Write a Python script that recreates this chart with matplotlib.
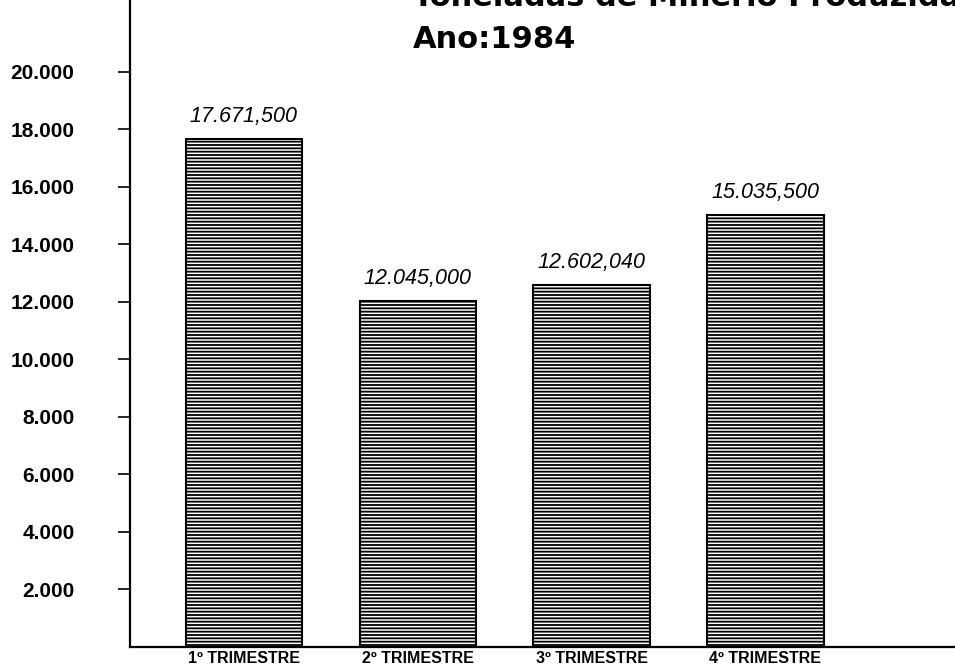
import numpy as np
import matplotlib as mpl
import matplotlib.pyplot as plt
from matplotlib.ticker import FuncFormatter

# producao trimestral (mil toneladas)
trimestres = ['1º TRIMESTRE', '2º TRIMESTRE', '3º TRIMESTRE', '4º TRIMESTRE']
producao = [17.6715, 12.045, 12.60204, 15.0355]
rotulos = ['17.671,500', '12.045,000', '12.602,040', '15.035,500']
yticks = [2, 4, 6, 8, 10, 12, 14, 16, 18, 20]

plt.rcParams['font.family'] = ['Liberation Sans', 'DejaVu Sans']
plt.rcParams['hatch.linewidth'] = 1.3
plt.rcParams['hatch.color'] = 'black'

fig = plt.figure(figsize=(9.55, 6.69), dpi=100)
ax = fig.add_axes([130 / 955, 22 / 669, 825 / 955, 647 / 669])

x = np.arange(len(producao))
ax.bar(x, producao, width=0.67, color='white', edgecolor='black',
       linewidth=1.5, hatch='-----')

for xi, v, txt in zip(x, producao, rotulos):
    ax.text(xi, v + 0.4, txt, ha='center', va='bottom', fontsize=15.5,
            style='italic')

ax.set_xlim(-0.655, 4.09)
ax.set_ylim(0, 22.5)
ax.set_yticks(yticks)
ax.yaxis.set_major_formatter(FuncFormatter(lambda v, p: f'{int(v)}.000'))
ax.tick_params(axis='y', length=9, width=1.2, pad=31, labelsize=15)
for lbl in ax.get_yticklabels():
    lbl.set_fontweight('bold')

ax.set_xticks(x)
ax.set_xticklabels(trimestres, fontsize=11.5, fontweight='bold')
ax.tick_params(axis='x', length=0, pad=3)

for s in ['top', 'right']:
    ax.spines[s].set_visible(False)
ax.spines['left'].set_linewidth(1.6)
ax.spines['bottom'].set_linewidth(1.6)

# titulo (a primeira linha fica cortada no topo)
fig.text(413 / 955, 1 - 6 / 669, 'Toneladas de Minério Produzidas',
         fontsize=22, fontweight='bold', ha='left', va='baseline',
         family='DejaVu Sans')
fig.text(413 / 955, 1 - 48 / 669, 'Ano:1984', fontsize=22,
         fontweight='bold', ha='left', va='baseline', family='DejaVu Sans')

fig.savefig('out.png', dpi=100)
